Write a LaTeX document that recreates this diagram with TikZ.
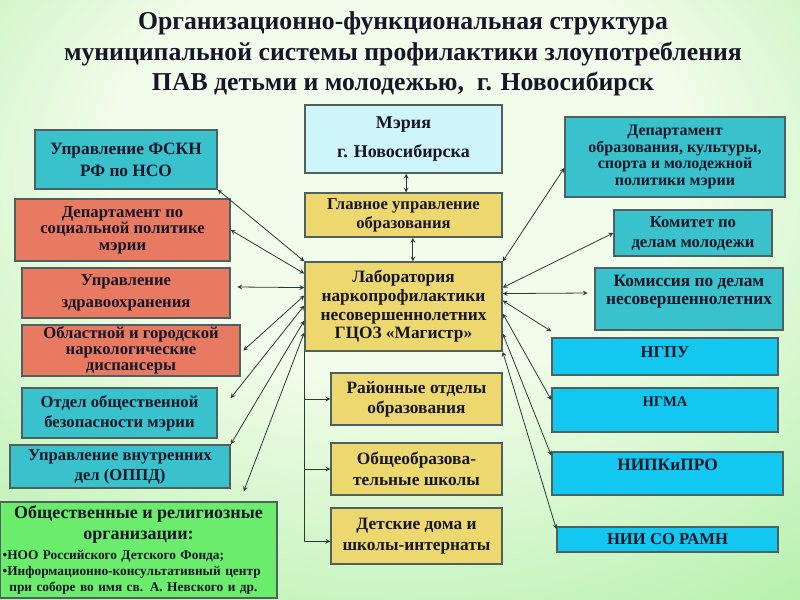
\documentclass[tikz,border=0pt]{standalone}
\usepackage{fontspec}
\setmainfont{Liberation Serif}
\usetikzlibrary{arrows,positioning}

\definecolor{tealfill}{RGB}{58,194,204}
\definecolor{salmonfill}{RGB}{233,122,98}
\definecolor{greenfill}{RGB}{108,236,108}
\definecolor{skyfill}{RGB}{206,246,250}
\definecolor{yellowfill}{RGB}{236,216,110}
\definecolor{cyanfill}{RGB}{18,200,240}
\definecolor{boxline}{RGB}{80,96,96}
\definecolor{wire}{RGB}{40,60,50}
\definecolor{ink}{RGB}{22,22,40}
\definecolor{bgin}{RGB}{242,252,234}
\definecolor{bgout}{RGB}{158,236,148}

\pgfdeclareradialshading{bgglow}{\pgfpoint{0bp}{15bp}}{color(0bp)=(bgin); color(18bp)=(bgin); color(50bp)=(bgout); color(75bp)=(bgout)}

\tikzset{
  txt/.style 2 args={font=\bfseries\fontsize{#1}{#2}\selectfont},
  card/.style={draw=boxline, line width=1.1pt, align=center, text=ink, inner sep=1pt},
  tealbox/.style={card, fill=tealfill},
  salmonbox/.style={card, fill=salmonfill},
  greenbox/.style={card, fill=greenfill},
  skybox/.style={card, fill=skyfill},
  yellowbox/.style={card, fill=yellowfill},
  cyanbox/.style={card, fill=cyanfill},
  link/.style={<->, draw=wire, line width=0.6pt},
  feed/.style={->, draw=wire, line width=0.6pt}
}

\begin{document}
\begin{tikzpicture}[x=0.75pt,y=-0.75pt,>=stealth]
\useasboundingbox (0,0) rectangle (800,600);
\shade[shading=bgglow] (0,0) rectangle (800,600);

% title
\node[txt={19.3}{23}, text=ink, align=center] (title) at (403,54)
  {Организационно-функциональная структура\\муниципальной системы профилактики злоупотребления\\ПАВ детьми и молодежью,\ \ г. Новосибирск};

% centre column
\node[skybox, minimum width=147.75pt, minimum height=51pt, txt={13.5}{21.5}] (meria) at (403.5,139)
  {Мэрия\\г. Новосибирска};
\node[yellowbox, minimum width=147.75pt, minimum height=33pt, txt={12.5}{14}, below=14pt of meria] (glavn)
  {Главное управление\\образования};
\node[yellowbox, minimum width=147.75pt, minimum height=66.75pt, txt={13}{14}, below=17.6pt of glavn] (lab)
  {Лаборатория\\наркопрофилактики\\несовершеннолетних\\ГЦОЗ «Магистр»};
\node[yellowbox, minimum width=128.25pt, minimum height=39pt, txt={13}{15}] (rayon) at (416.5,399)
  {Районные отделы\\образования};
\node[yellowbox, minimum width=128.25pt, minimum height=39pt, txt={13}{16}] (shkoly) at (416.5,469)
  {Общеобразова-\\тельные школы};
\node[yellowbox, minimum width=128.25pt, minimum height=42pt, txt={13}{16}] (detdom) at (416.5,536)
  {Детские дома и\\школы-интернаты};

% left column
\node[tealbox, minimum width=136.5pt, minimum height=44.25pt, txt={13}{16.5}] (fskn) at (126,159.5)
  {Управление ФСКН\\РФ по НСО};
\node[salmonbox, minimum width=161.25pt, minimum height=46.5pt, txt={12.5}{12.5}] (socdep) at (122.5,230)
  {Департамент по\\социальной политике\\мэрии};
\node[salmonbox, minimum width=156pt, minimum height=37.5pt, txt={12.5}{16.5}] (zdrav) at (126,293)
  {Управление\\здравоохранения};
\node[salmonbox, minimum width=163.5pt, minimum height=38.25pt, txt={12.5}{12}] (narko) at (131,350.5)
  {Областной и городской\\наркологические\\диспансеры};
\node[tealbox, minimum width=146.25pt, minimum height=37.5pt, txt={12.5}{15}] (bezop) at (119.5,413)
  {Отдел общественной\\безопасности мэрии};
\node[tealbox, minimum width=165pt, minimum height=32.25pt, txt={12.5}{15}] (ovd) at (120,466.5)
  {Управление внутренних\\дел (ОППД)};
\node[greenbox, text width=203.75pt, inner xsep=2pt, align=left, minimum height=72pt, font=\bfseries] (obsch) at (138.5,550)
  {{\centering\fontsize{13.5}{15.75}\selectfont Общественные и религиозные\\организации:\par}\vspace{3pt}
   {\fontsize{10}{12}\selectfont \textbullet НОО Российского Детского Фонда;\\\textbullet Информационно-консультативный центр\\\hspace*{5pt}при соборе во имя св. А. Невского и др.\par}};

% right column
\node[tealbox, minimum width=165pt, minimum height=60pt, txt={12}{12.4}] (depobr) at (675,157)
  {Департамент\\образования, культуры,\\спорта и молодежной\\политики мэрии};
\node[tealbox, minimum width=118.5pt, minimum height=34.5pt, txt={12.5}{15}] (komitet) at (693,233)
  {Комитет по\\делам молодежи};
\node[tealbox, minimum width=141pt, minimum height=46.5pt, txt={13}{13.5}, text depth=14pt] (komissia) at (689,299)
  {Комиссия по делам\\несовершеннолетних};
\node[cyanbox, minimum width=169.5pt, minimum height=27.75pt, txt={12.5}{14}, text depth=6.8pt] (ngpu) at (665,356.5) {НГПУ};
\node[cyanbox, minimum width=169.5pt, minimum height=33pt, txt={11}{13}, text depth=12pt] (ngma) at (665,410) {НГМА};
\node[cyanbox, minimum width=173.25pt, minimum height=32.25pt, txt={13}{15}, text depth=12.8pt] (nipk) at (667.5,473.5) {НИПКиПРО};
\node[cyanbox, minimum width=165.75pt, minimum height=18.75pt, txt={12.5}{14}] (nii) at (667.5,539.5) {НИИ СО РАМН};

% links
\draw[link] ([xshift=2pt]meria.south) -- ([xshift=2pt]glavn.north);
\draw[link] ([xshift=7pt]glavn.south) -- ([xshift=7pt]lab.north);

\draw[link] (fskn.south east) -- (lab.north west);
\draw[link] (socdep.east) -- ([yshift=24.75pt]lab.west);
\draw[link] ([xshift=5pt,yshift=4.5pt]zdrav.east) -- ([yshift=14.25pt]lab.west);
\draw[link] ([xshift=2pt]narko.east) -- ([yshift=8.25pt]lab.west);
\draw[link] ([xshift=9.75pt,yshift=11.25pt]bezop.east) -- ([yshift=0.75pt]lab.west);
\draw[link] (ovd.north east) -- ([yshift=-10.5pt]lab.west);
\draw[link] ([xshift=-25.5pt,yshift=7.5pt]obsch.north east) -- ([yshift=-19.5pt]lab.west);

\draw[link] (lab.north east) -- ([yshift=-8.25pt]depobr.west);
\draw[link] ([yshift=14.25pt]lab.east) -- (komitet.west);
\draw[link] ([yshift=9.75pt]lab.east) -- ([xshift=-5pt,yshift=4.5pt]komissia.west);
\draw[link] ([yshift=4.5pt]lab.east) -- ([yshift=4.5pt]ngpu.north west);
\draw[link] ([yshift=-5.25pt]lab.east) -- ([yshift=7.5pt]ngma.west);
\draw[link] ([yshift=-20.25pt]lab.east) -- ([yshift=13.5pt]nipk.west);
\draw[link] (lab.south east) -- ([yshift=-2pt]nii.north west);

\draw[feed] (lab.south west) |- ([yshift=-4pt]detdom.west);
\draw[feed] (lab.south west |- rayon.west) -- (rayon.west);
\draw[feed] (lab.south west |- shkoly.west) -- (shkoly.west);
\end{tikzpicture}
\end{document}
